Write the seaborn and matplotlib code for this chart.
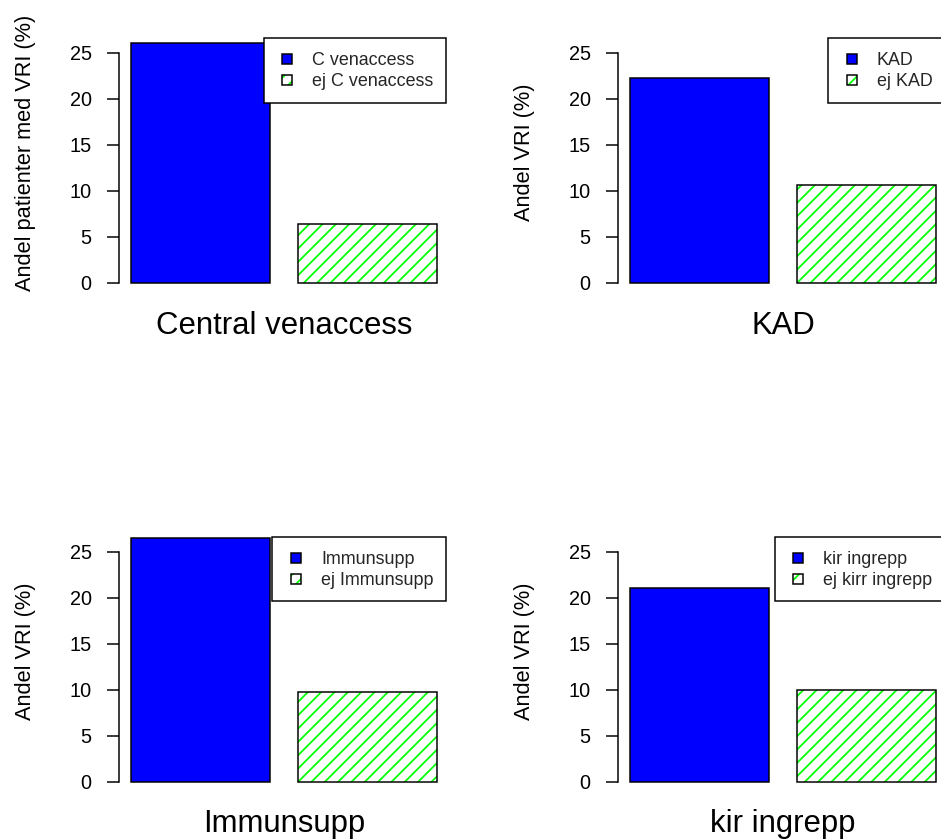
import matplotlib
matplotlib.use("Agg")
import matplotlib.pyplot as plt
from matplotlib.patches import Patch, Rectangle
from matplotlib.legend_handler import HandlerPatch
import pandas as pd
import seaborn as sns

# --- data -------------------------------------------------------------
titlar = ["Central venaccess", "KAD", "Immunsupp", "kir ingrepp"]
grupper = [
    ["C venaccess", "ej C venaccess"],
    ["KAD", "ej KAD"],
    ["Immunsupp", "ej Immunsupp"],
    ["kir ingrepp", "ej kirr ingrepp"],
]
andel_central = [26.1, 6.4]
andel_kad = [22.3, 10.7]
andel_immun = [26.5, 9.7]
andel_kir = [21.0, 9.9]
andelar = [andel_central, andel_kad, andel_immun, andel_kir]
ylabels = ["Andel patienter med VRI (%)", "Andel VRI (%)", "Andel VRI (%)", "Andel VRI (%)"]
yticks = [0, 5, 10, 15, 20, 25]

# --- style ------------------------------------------------------------
sns.set_theme(style="white")
plt.rcParams["font.family"] = ["Liberation Sans", "DejaVu Sans"]
plt.rcParams["hatch.linewidth"] = 1.6

BLUE = "#0000FF"
GREEN = "#00FF00"
LW = 1.35

DPI = 80
W, H = 941, 840
fig = plt.figure(figsize=(W / DPI, H / DPI), dpi=DPI, facecolor="white")

# shared y scale for all panels (R-style 4 % padding)
Y_TOP = 25.6
Y_LO, Y_HI = -0.04 * Y_TOP, 1.04 * Y_TOP
PX_PER_UNIT = 9.2
AX_W = 330
col_x = [119, 618]
row_zero = [283, 781.5]
title_base = [334, 832]


def square_patch(legend, orig_handle, xdescent, ydescent, width, height, fontsize):
    side = 9.0
    return Rectangle((-xdescent + (width - side) / 2, -ydescent + (height - side) / 2), side, side)


for i, (titel, namn, varden, ylab) in enumerate(zip(titlar, grupper, andelar, ylabels)):
    r, c = divmod(i, 2)
    x0 = col_x[c]
    bottom_px = row_zero[r] - Y_LO * PX_PER_UNIT
    height_px = (Y_HI - Y_LO) * PX_PER_UNIT
    ax = fig.add_axes([x0 / W, 1 - bottom_px / H, AX_W / W, height_px / H])

    df = pd.DataFrame({"grupp": namn, "andel": varden})
    sns.barplot(
        data=df, x="grupp", y="andel", hue="grupp",
        palette=[BLUE, "white"], saturation=1, width=1 / 1.2,
        linewidth=0, legend=False, ax=ax,
    )

    bars = sorted(ax.patches, key=lambda p: p.get_x())
    # second bar: green diagonal hatching on white
    hb = bars[1]
    hb.set_facecolor("white")
    hb.set_edgecolor(GREEN)
    hb.set_hatch("//")
    hb.set_linewidth(0)
    # black outlines
    for p in bars:
        ax.add_patch(Rectangle(p.get_xy(), p.get_width(), p.get_height(),
                               fill=False, edgecolor="black", linewidth=LW,
                               zorder=p.get_zorder() + 0.1))

    ax.set_xlim(-0.5 + 1 / 12 - 0.088 / 1.2, 1.5 - 1 / 12 + 0.088 / 1.2)
    ax.set_ylim(Y_LO, Y_HI)
    ax.set_xticks([])
    ax.set_xlabel("")
    ax.set_yticks(yticks)
    ax.set_yticklabels([str(t) for t in yticks])
    ax.tick_params(axis="y", left=True, labelleft=True, direction="out",
                   length=11.25, width=LW, pad=13.5, labelsize=17.9,
                   colors="black")
    for s in ["top", "right", "bottom"]:
        ax.spines[s].set_visible(False)
    ax.spines["left"].set_bounds(0, 25)
    ax.spines["left"].set_linewidth(LW)
    ax.spines["left"].set_color("black")
    ax.patch.set_alpha(0)

    ax.set_ylabel(ylab, fontsize=19.6, color="black")
    ax.yaxis.set_label_coords(-83 / AX_W, 0.55)

    # legend
    h1 = Patch(facecolor=BLUE, edgecolor="black", linewidth=LW)
    h2 = (Patch(facecolor="white", edgecolor=GREEN, hatch="//", linewidth=0),
          Patch(facecolor="none", edgecolor="black", linewidth=LW))
    leg = ax.legend(
        [h1, h2], namn, loc="upper right", bbox_to_anchor=(1 - 3 / AX_W, 1),
        borderaxespad=0, fontsize=16.1, frameon=True, fancybox=False,
        framealpha=1, borderpad=0.7, labelspacing=0.12,
        handlelength=1.23, handleheight=1.12, handletextpad=0.78,
        handler_map={Patch: HandlerPatch(patch_func=square_patch)},
    )
    leg.get_frame().set_edgecolor("black")
    leg.get_frame().set_linewidth(LW)

    cx = (x0 + AX_W / 2) / W
    fig.text(cx, 1 - title_base[r] / H, titel, ha="center", va="baseline",
             fontsize=28, color="black")

fig.savefig("out.png", dpi=DPI, facecolor="white")
